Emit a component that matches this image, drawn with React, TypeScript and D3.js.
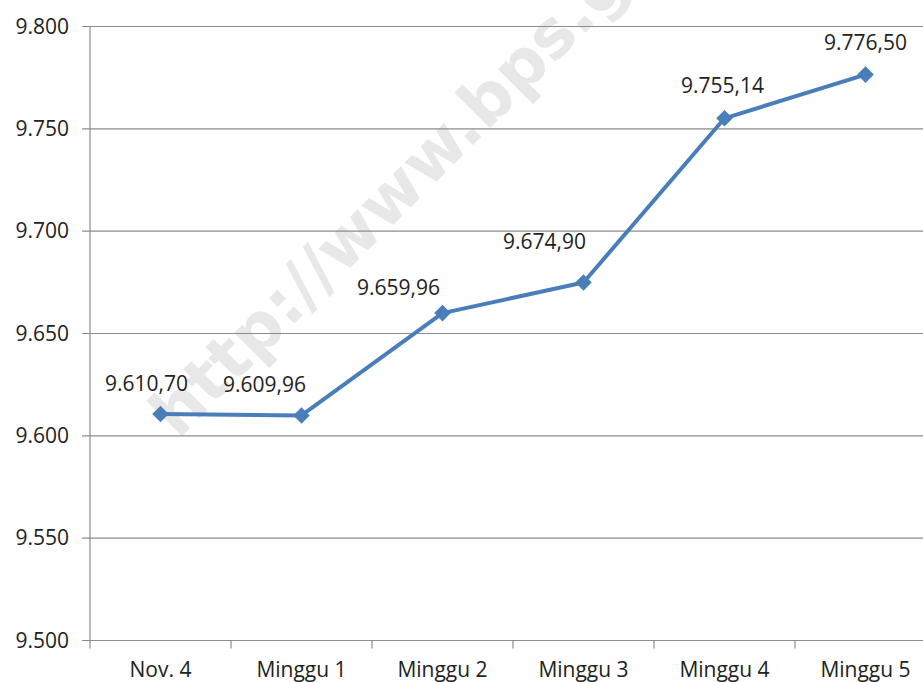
import React from "react";
import * as d3 from "d3";

const categories = ["Nov. 4", "Minggu 1", "Minggu 2", "Minggu 3", "Minggu 4", "Minggu 5"];
const values = [9610.7, 9609.96, 9659.96, 9674.9, 9755.14, 9776.5];
const yTicks = [9500, 9550, 9600, 9650, 9700, 9750, 9800];

// manual label nudges (px), like the moved labels in the original sheet
const labelDx = [-14, -37, -44, -39, -2, 0];
const labelDy = [-23, -23, -18, -34, -25, -25];

const W = 923;
const H = 682;
const left = 90;
const step = 141;
const top = 26.5;
const bottom = 640.5;

const fmtNum = (v: number, dec: number) => {
  const [i, f] = v.toFixed(dec).split(".");
  const int = i.replace(/\B(?=(\d{3})+(?!\d))/g, ".");
  return f ? `${int},${f}` : int;
};

export default function App() {
  const x = d3
    .scaleBand<string>()
    .domain(categories)
    .range([left, left + step * categories.length]);
  const y = d3.scaleLinear().domain([9500, 9800]).range([bottom, top]);
  const cx = (c: string) => (x(c) as number) + x.bandwidth() / 2;

  const line = d3
    .line<number>()
    .x((_, i) => cx(categories[i]))
    .y((d) => y(d));

  const diamond = d3.symbol().type(d3.symbolDiamond2).size(175)();
  const font = "'Open Sans', 'Noto Sans', sans-serif";
  const boundaries = d3.range(categories.length + 1).map((i) => left + i * x.step());

  return (
    <svg
      width={W}
      height={H}
      style={{ position: "absolute", left: 0, top: 0, background: "#fff" }}
      fontFamily={font}
    >
      {/* watermark */}
      <text
        transform="translate(178,440) rotate(-45)"
        fontSize={66}
        fontWeight="bold"
        fill="#e8e8e8"
        fontFamily="'DejaVu Sans', sans-serif"
      >
        http://www.bps.go.id
      </text>

      {/* gridlines */}
      {yTicks.map((t) => (
        <line key={t} x1={left - 8} x2={W} y1={y(t)} y2={y(t)} stroke="#8c8c8c" strokeWidth={1.2} />
      ))}
      {/* y axis */}
      <line x1={left} x2={left} y1={top} y2={bottom} stroke="#8c8c8c" strokeWidth={1.2} />
      {yTicks.map((t) => (
        <text key={t} x={69} y={y(t) + 7} textAnchor="end" fontSize={21} fill="#222">
          {fmtNum(t, 0)}
        </text>
      ))}
      {/* x ticks */}
      {boundaries.map((b) => (
        <line key={b} x1={b} x2={b} y1={bottom} y2={bottom + 8} stroke="#8c8c8c" strokeWidth={1.2} />
      ))}
      {categories.map((c) => (
        <text key={c} x={cx(c)} y={677} textAnchor="middle" fontSize={21} fill="#222">
          {c}
        </text>
      ))}

      {/* series */}
      <path d={line(values) || ""} fill="none" stroke="#4a7ebb" strokeWidth={4} strokeLinejoin="round" />
      {values.map((v, i) => (
        <path key={i} d={diamond || ""} transform={`translate(${cx(categories[i])},${y(v)})`} fill="#4a7ebb" />
      ))}
      {values.map((v, i) => (
        <text
          key={i}
          x={cx(categories[i]) + labelDx[i]}
          y={y(v) + labelDy[i]}
          textAnchor="middle"
          fontSize={21}
          fill="#222"
        >
          {fmtNum(v, 2)}
        </text>
      ))}
    </svg>
  );
}
